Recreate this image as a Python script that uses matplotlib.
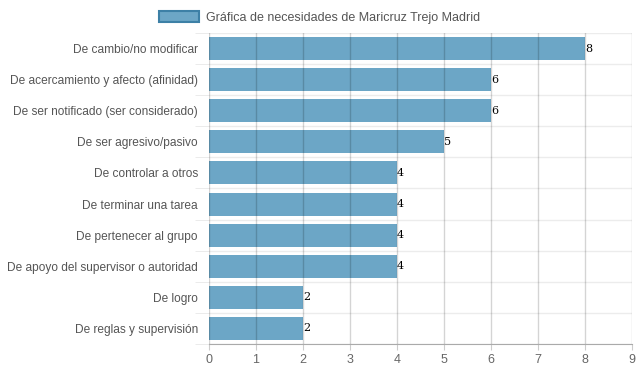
import matplotlib.pyplot as plt
import numpy as np

categories = ['De cambio/no modificar', 'De acercamiento y afecto (afinidad)',
              'De ser notificado (ser considerado)', 'De ser agresivo/pasivo',
              'De controlar a otros', 'De terminar una tarea',
              'De pertenecer al grupo', 'De apoyo del supervisor o autoridad',
              'De logro', 'De reglas y supervisión']
values = [8, 6, 6, 5, 4, 4, 4, 4, 2, 2]
x_ticks = list(range(0, 10))
series_name = 'Gráfica de necesidades de Maricruz Trejo Madrid'

plt.rcParams['font.family'] = ['Liberation Sans', 'DejaVu Sans']

fig = plt.figure(figsize=(6.39, 3.72), dpi=100)
ax = fig.add_axes([209 / 639, 1 - 344 / 372, 423 / 639, 311 / 372])

y = np.arange(len(categories))
ax.barh(y, values, height=0.74, color='#6ca6c6', zorder=2, label=series_name)
for yi, v in zip(y, values):
    ax.text(v, yi, str(v), ha='left', va='center', fontsize=8,
            family='DejaVu Serif', color='black', zorder=4)

ax.set_xlim(0, 9)
ax.set_ylim(len(categories) - 0.5, -0.5)
ax.set_xticks(x_ticks)
ax.set_yticks(y)
ax.set_yticklabels(categories)
ax.tick_params(axis='x', length=4, color='#cccccc', labelsize=9,
               labelcolor='#666666')

# gridlines: vertical at ticks (drawn over the bars), horizontal at category boundaries
for xv in x_ticks:
    ax.axvline(xv, color='black', alpha=0.17, lw=1, zorder=3)
for b in np.arange(-0.5, len(categories) + 0.5, 1):
    ax.axhline(b, color='#ececec', lw=1, zorder=1)
ax.set_yticks(np.arange(-0.5, len(categories), 1), minor=True)
ax.tick_params(axis='y', which='minor', length=10, color='#e8e8e8')
ax.tick_params(axis='y', which='major', length=0, pad=8, labelsize=8.6,
               labelcolor='#555555')

for s in ['top', 'right', 'left']:
    ax.spines[s].set_visible(False)
ax.spines['bottom'].set_color('#aaaaaa')

handle = plt.Rectangle((0, 0), 1, 1, facecolor='#6ca6c6', edgecolor='#3d80a6', lw=1.5)
fig.legend([handle], [series_name], loc='upper center', bbox_to_anchor=(0.5, 1.0),
           frameon=False, fontsize=9, handlelength=3.2, handleheight=1.0,
           handletextpad=0.6, labelcolor='#555555')

fig.savefig('out.png', dpi=100)
